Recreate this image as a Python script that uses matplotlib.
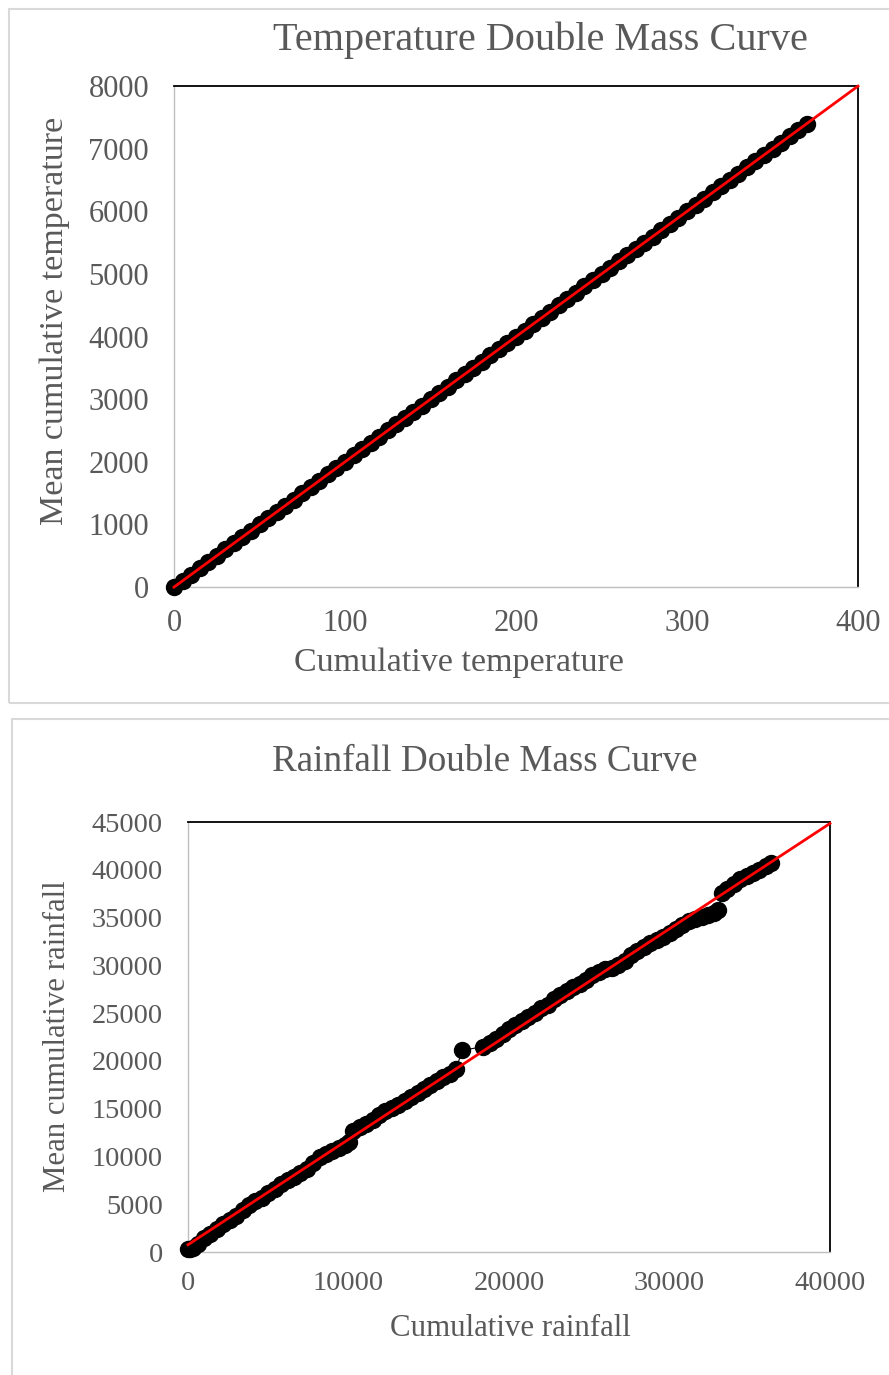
"""Double mass curves for temperature and rainfall, Excel-like styling."""

import matplotlib

matplotlib.use("Agg")
import matplotlib.pyplot as plt
import numpy as np
from matplotlib.patches import Rectangle

W, H = 889, 1375
GRAY_TEXT = "#595959"

# cumulative temperature (x) vs mean cumulative temperature (y)
temp_x = [0, 5, 10, 15, 20, 25, 30, 35, 40, 45, 50, 55, 60, 65, 70, 75, 80,
          85, 90, 95, 100, 105, 110, 115, 120, 125, 130, 135, 140, 145, 150,
          155, 160, 165, 170, 175, 180, 185, 190, 195, 200, 205, 210, 215,
          220, 225, 230, 235, 240, 245, 250, 255, 260, 265, 270, 275, 280,
          285, 290, 295, 300, 305, 310, 315, 320, 325, 330, 335, 340, 345,
          350, 355, 360, 365, 370]
temp_y = [0, 95, 195, 300, 400, 495, 600, 700, 795, 900, 1000, 1095, 1200,
          1300, 1395, 1500, 1600, 1695, 1800, 1900, 1995, 2100, 2200, 2295,
          2400, 2500, 2595, 2700, 2800, 2895, 3000, 3100, 3195, 3300, 3400,
          3495, 3600, 3700, 3795, 3900, 4000, 4095, 4200, 4300, 4395, 4500,
          4600, 4695, 4800, 4900, 4995, 5100, 5200, 5295, 5400, 5500, 5595,
          5700, 5800, 5895, 6000, 6100, 6195, 6300, 6400, 6495, 6600, 6700,
          6795, 6900, 7000, 7095, 7200, 7300, 7395]

# cumulative rainfall (x) vs mean cumulative rainfall (y)
rain_x = [0, 100, 300, 600, 1000, 1400, 1800, 2200, 2600, 3000, 3400, 3800,
          4200, 4600, 5000, 5400, 5800, 6200, 6600, 7000, 7400, 7800, 8200,
          8600, 9000, 9400, 9800, 10000, 10300, 10700, 11100, 11500, 11900,
          12300, 12700, 13100, 13500, 13900, 14300, 14700, 15100, 15500,
          15900, 16300, 16700, 17100, 18400, 18800, 19200, 19600, 20000,
          20400, 20800, 21200, 21600, 22000, 22400, 22800, 23200, 23600,
          24000, 24400, 24800, 25200, 25600, 26000, 26400, 26800, 27200,
          27600, 28000, 28400, 28800, 29200, 29600, 30000, 30400, 30800,
          31200, 31600, 32000, 32400, 32800, 33000, 33300, 33600, 34000,
          34400, 34800, 35200, 35600, 36000, 36300]
rain_y = [300, 350, 450, 800, 1500, 1900, 2400, 2900, 3300, 3800, 4400, 4900,
          5300, 5700, 6200, 6600, 7100, 7500, 7900, 8300, 8700, 9300, 9900,
          10300, 10600, 10900, 11200, 11500, 12700, 13100, 13400, 13800,
          14300, 14800, 15100, 15400, 15800, 16200, 16600, 17100, 17500,
          17900, 18300, 18600, 19200, 21100, 21500, 21900, 22300, 22800,
          23300, 23800, 24200, 24600, 25000, 25500, 25900, 26500, 26900,
          27300, 27700, 28000, 28500, 29000, 29300, 29600, 29700, 30000,
          30500, 31100, 31500, 31900, 32300, 32700, 33000, 33400, 33800,
          34200, 34600, 34900, 35100, 35300, 35500, 35800, 37600, 38000,
          38500, 39000, 39400, 39700, 40000, 40400, 40700]

temp_xticks = [0, 100, 200, 300, 400]
temp_yticks = [0, 1000, 2000, 3000, 4000, 5000, 6000, 7000, 8000]
rain_xticks = [0, 10000, 20000, 30000, 40000]
rain_yticks = [0, 5000, 10000, 15000, 20000, 25000, 30000, 35000, 40000, 45000]

plt.rcParams["font.family"] = ["Liberation Serif", "DejaVu Serif"]


def fx(px):
    return px / W


def fy(py):
    return 1 - py / H


def panel(fig, left, top, right, bottom):
    """Light gray chart-area frame like Excel draws around each chart."""
    fig.patches.append(Rectangle(
        (fx(left), fy(bottom)), fx(right) - fx(left), fy(top) - fy(bottom),
        transform=fig.transFigure, fill=False, edgecolor="#d9d9d9",
        linewidth=1.5, zorder=0))


def draw_curve(ax, x, y, xmax, xticks, yticks, fs, xpad):
    x = np.asarray(x, dtype=float)
    y = np.asarray(y, dtype=float)
    ax.plot(x, y, "-o", color="black", lw=0.8, ms=11.5, mec="black",
            clip_on=False, zorder=3)
    m, b = np.polyfit(x, y, 1)
    xl = np.array([0, xmax])
    ax.plot(xl, m * xl + b, color="#ff0000", lw=2.0, zorder=4, clip_on=False)

    ax.set_xlim(0, xmax)
    ax.set_ylim(yticks[0], yticks[-1])
    ax.set_xticks(xticks)
    ax.set_yticks(yticks)
    ax.tick_params(length=0, labelsize=fs, labelcolor=GRAY_TEXT)
    ax.tick_params(axis="y", pad=18)
    ax.tick_params(axis="x", pad=xpad)
    for side in ("left", "bottom"):
        ax.spines[side].set_color("#bfbfbf")
        ax.spines[side].set_linewidth(1.0)
    for side in ("top", "right"):
        ax.spines[side].set_color("black")
        ax.spines[side].set_linewidth(1.3)


fig = plt.figure(figsize=(W / 100, H / 100), dpi=100)

panel(fig, 9, 9, 895, 703)
panel(fig, 12, 719, 895, 1385)

# temperature
ax1 = fig.add_axes([fx(174), fy(587), fx(858) - fx(174), fy(86) - fy(587)])
draw_curve(ax1, temp_x, temp_y, 400, temp_xticks, temp_yticks, 22, 16)
fig.text(fx(540), fy(40), "Temperature Double Mass Curve", ha="center",
         va="center", fontsize=29, color=GRAY_TEXT)
fig.text(fx(459), fy(663), "Cumulative temperature", ha="center",
         va="center", fontsize=24.5, color=GRAY_TEXT)
fig.text(fx(55), fy(321), "Mean cumulative temperature", ha="center",
         va="center", rotation=90, fontsize=24.5, color=GRAY_TEXT)

# rainfall
ax2 = fig.add_axes([fx(188), fy(1252), fx(830) - fx(188), fy(822) - fy(1252)])
draw_curve(ax2, rain_x, rain_y, 40000, rain_xticks, rain_yticks, 20.4, 14)
fig.text(fx(485), fy(762), "Rainfall Double Mass Curve", ha="center",
         va="center", fontsize=26.7, color=GRAY_TEXT)
fig.text(fx(510), fy(1328), "Cumulative rainfall", ha="center",
         va="center", fontsize=22.2, color=GRAY_TEXT)
fig.text(fx(58), fy(1036), "Mean cumulative rainfall", ha="center",
         va="center", rotation=90, fontsize=22.2, color=GRAY_TEXT)

fig.savefig("out.png", dpi=100)
